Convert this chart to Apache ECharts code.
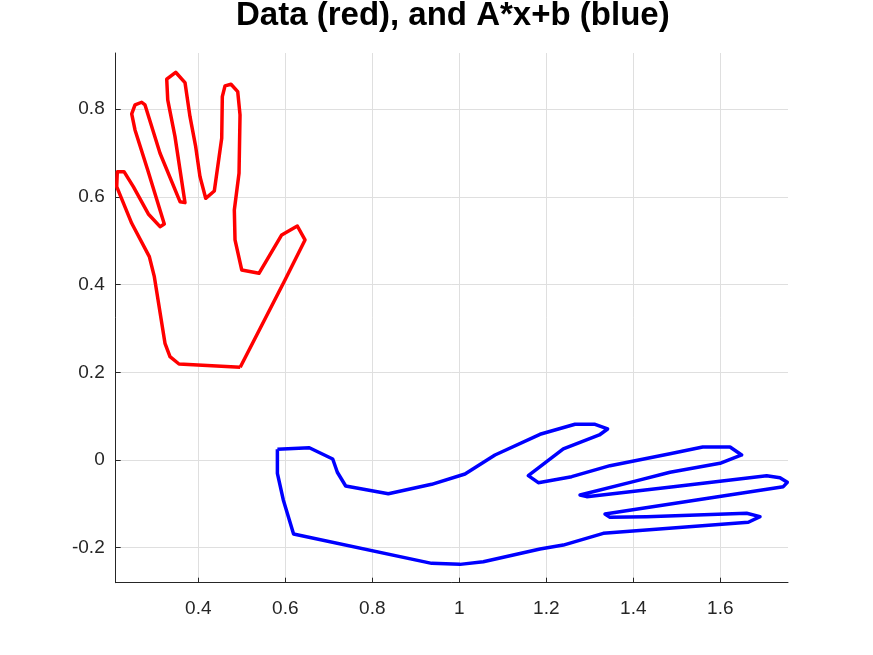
<!DOCTYPE html>
<html>
<head>
<meta charset="utf-8">
<script src="https://cdn.jsdelivr.net/npm/echarts@6/dist/echarts.min.js"></script>
<style>html,body{margin:0;padding:0;background:#fff}#c{width:873px;height:655px}</style>
</head>
<body>
<div id="c"></div>
<script>
const titleText = 'Data (red), and A*x+b (blue)';
const xRange = [0.2101, 1.7556];
const yRange = [-0.2798, 0.928];

const redData = [
  [0.4963,0.2114],[0.3556,0.2189],[0.3349,0.2356],[0.3234,0.266],[0.2989,0.418],
  [0.2874,0.4637],[0.2469,0.5397],[0.2124,0.6233],[0.2138,0.6575],[0.2292,0.6575],
  [0.2506,0.6233],[0.2851,0.561],[0.3120,0.532],[0.3218,0.538],[0.2837,0.6613],
  [0.2545,0.7526],[0.2469,0.789],[0.2545,0.8096],[0.2698,0.8157],[0.2775,0.8096],
  [0.3120,0.6994],[0.3579,0.589],[0.3694,0.5868],[0.3464,0.7373],[0.3297,0.821],
  [0.3274,0.8682],[0.348,0.884],[0.3694,0.8605],[0.3809,0.7829],[0.394,0.7145],
  [0.4039,0.646],[0.417,0.5967],[0.4368,0.6134],[0.4538,0.7336],[0.4552,0.8285],
  [0.4614,0.8529],[0.4752,0.8567],[0.4906,0.84],[0.4959,0.7868],[0.4936,0.6538],
  [0.4828,0.5701],[0.4844,0.5017],[0.4998,0.4333],[0.5395,0.4257],[0.5917,0.5131],
  [0.6276,0.5336],[0.6453,0.5017],[0.5993,0.4105],[0.4963,0.2114]
];

const blueData = [
  [0.5818,0.0244],[0.6552,0.028],[0.709,0.0023],[0.7196,-0.028],[0.7388,-0.0593],
  [0.8368,-0.0768],[0.9365,-0.0555],[1.0131,-0.0319],[1.082,0.0114],[1.1855,0.0586],
  [1.266,0.0814],[1.312,0.0814],[1.3409,0.0707],[1.3219,0.057],[1.2391,0.0251],
  [1.1586,-0.0357],[1.1816,-0.0517],[1.2583,-0.038],[1.3464,-0.013],[1.4844,0.0144],
  [1.5595,0.0296],[1.6223,0.0296],[1.6491,0.0114],[1.5993,-0.0076],[1.4844,-0.0281],
  [1.4,-0.0494],[1.2775,-0.0798],[1.2929,-0.0836],[1.4921,-0.0608],[1.7066,-0.0357],
  [1.7372,-0.0403],[1.754,-0.0509],[1.7448,-0.0608],[1.3349,-0.1231],[1.3464,-0.1308],
  [1.4308,-0.1292],[1.6606,-0.1216],[1.6913,-0.1292],[1.6644,-0.142],[1.331,-0.1673],
  [1.239,-0.194],[1.1855,-0.203],[1.0552,-0.2319],[1.0016,-0.238],[0.9365,-0.2357],
  [0.619,-0.1688],[0.5954,-0.0912],[0.5818,-0.0304],[0.5818,0.0244]
];

const axisColor = '#262626';
const gridColor = '#dfdfdf';
const font = 'Liberation Sans, Helvetica, Arial, sans-serif';

function axisCommon(range, split) {
  return {
    type: 'value',
    min: range[0],
    max: range[1],
    splitNumber: split,
    axisLine: { show: true, onZero: false, lineStyle: { color: axisColor, width: 1 } },
    axisTick: { show: true, inside: true, length: 5, lineStyle: { color: axisColor } },
    axisLabel: {
      color: axisColor, fontSize: 19, fontFamily: font,
      showMinLabel: false, showMaxLabel: false,
      formatter: v => String(Math.round(v * 10) / 10)
    },
    splitLine: { show: true, showMinLine: false, showMaxLine: false, lineStyle: { color: gridColor, width: 1 } }
  };
}

const chart = echarts.init(document.getElementById('c'), null, { renderer: 'canvas' });
const xAxis = axisCommon(xRange, 8);
xAxis.axisLabel.margin = 17;
const yAxis = axisCommon(yRange, 6);
yAxis.axisLabel.margin = 11;

chart.setOption({
  animation: false,
  backgroundColor: '#ffffff',
  title: {
    text: titleText,
    left: 231,
    top: -6,
    textStyle: { fontFamily: font, fontWeight: 'bold', fontSize: 33, color: '#000000' }
  },
  grid: { left: 115.7, right: 85, top: 53, bottom: 72.3, containLabel: false },
  xAxis: xAxis,
  yAxis: yAxis,
  series: [
    { type: 'line', data: redData, showSymbol: false, symbol: 'none',
      lineStyle: { color: '#ff0000', width: 3.5, join: 'round' }, z: 3 },
    { type: 'line', data: blueData, showSymbol: false, symbol: 'none',
      lineStyle: { color: '#0000ff', width: 3.5, join: 'round' }, z: 3 }
  ]
});
</script>
</body>
</html>
